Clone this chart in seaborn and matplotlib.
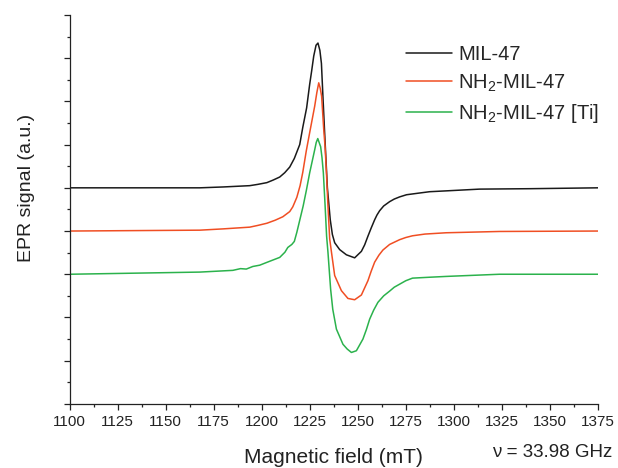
"""Stacked EPR spectra of MIL-47 samples (Q-band)."""

import matplotlib.pyplot as plt
import pandas as pd
import seaborn as sns
from matplotlib.ticker import MultipleLocator

# values, field in mT, signal in units of one major y tick
field_black = [1100, 1167.8, 1180, 1193.8, 1198, 1202.7, 1206, 1209.4, 1212,
               1214.6, 1217, 1219.8, 1221.4, 1223.4, 1225.0, 1226.0, 1227.1,
               1228.3, 1229.3, 1230.3, 1231.1, 1231.9, 1232.8, 1234.2, 1235.7,
               1236.8, 1238.0, 1240.6, 1244.1, 1248.4, 1251.9, 1253.6, 1255.3,
               1257, 1258.8, 1260, 1261.4, 1263.5, 1266.6, 1269, 1271.8, 1275.4,
               1282.2, 1287.4, 1296.2, 1313.4, 1340, 1375]
signal_black = [0, 0, 0.02, 0.05, 0.08, 0.12, 0.18, 0.25, 0.35,
                0.48, 0.68, 1.00, 1.40, 1.85, 2.40, 2.70, 3.05,
                3.30, 3.35, 3.18, 2.88, 2.10, 1.25, 0, -0.74,
                -1.08, -1.27, -1.43, -1.55, -1.62, -1.47, -1.32, -1.12,
                -0.93, -0.74, -0.63, -0.53, -0.42, -0.32, -0.26, -0.21, -0.16,
                -0.12, -0.09, -0.07, -0.03, -0.02, 0]

field_red = [1100, 1167.8, 1180, 1193.8, 1198, 1202.7, 1207, 1211.0, 1214.6,
             1216.2, 1218.3, 1220, 1221.4, 1223.2, 1225.0, 1227.6, 1228.7,
             1229.7, 1230.5, 1231.2, 1232.3, 1233.0, 1233.7, 1234.5, 1235.4,
             1236.3, 1238.0, 1241.5, 1244.9, 1248.4, 1251.9, 1255.3, 1257,
             1258.8, 1261, 1263.1, 1266.6, 1271.8, 1275, 1278.5, 1285, 1296,
             1323.8, 1375]
signal_red = [0, 0.02, 0.05, 0.09, 0.13, 0.18, 0.25, 0.33, 0.45,
              0.56, 0.78, 1.05, 1.36, 1.85, 2.28, 2.89, 3.20,
              3.43, 3.30, 3.12, 2.35, 1.95, 1.36, 0.58, -0.18,
              -0.48, -1.03, -1.38, -1.56, -1.59, -1.48, -1.15, -0.93,
              -0.72, -0.56, -0.44, -0.31, -0.20, -0.15, -0.11, -0.07, -0.04,
              -0.01, 0]

field_green = [1100, 1167.8, 1185.0, 1189.0, 1192.0, 1195.4, 1199.0, 1203.0,
               1209.4, 1212.1, 1213.6, 1215.7, 1217.0, 1218.3, 1221.6, 1223.3,
               1225.0, 1227.6, 1228.4, 1229.2, 1230.7, 1231.4, 1232.1, 1233.0,
               1233.8, 1234.5, 1235.9, 1237.0, 1238.9, 1242.3, 1244.5, 1246.7,
               1249.3, 1252.7, 1254.5, 1256.2, 1258.3, 1260.5, 1263.5, 1266.6,
               1269, 1271.8, 1275, 1278.5, 1287, 1296.2, 1323.8, 1375]
signal_green = [0, 0.05, 0.09, 0.13, 0.12, 0.18, 0.21, 0.28,
                0.39, 0.51, 0.62, 0.69, 0.76, 0.97, 1.58, 1.95,
                2.35, 2.88, 3.05, 3.14, 2.95, 2.70, 2.35, 1.60,
                0.88, 0.51, -0.35, -0.81, -1.27, -1.62, -1.73, -1.81,
                -1.77, -1.50, -1.28, -1.04, -0.83, -0.65, -0.50, -0.39,
                -0.30, -0.23, -0.15, -0.09, -0.07, -0.05, 0, 0]

labels = ["MIL-47", "NH$_2$-MIL-47", "NH$_2$-MIL-47 [Ti]"]
x_ticks = list(range(1100, 1376, 25))

offsets = [2, 1, 0]
colors = ["#1a1a1a", "#f04e23", "#2bb24c"]

sns.set_style("ticks")
plt.rcParams["font.family"] = ["Liberation Sans", "DejaVu Sans"]
plt.rcParams["mathtext.default"] = "regular"

fig = plt.figure(figsize=(6.18, 4.68), dpi=100)
ax = fig.add_axes([0.1125, 0.137, 0.855, 0.831])

series = [(field_black, signal_black), (field_red, signal_red),
          (field_green, signal_green)]
for (fx, sy), lab, off, col in zip(series, labels, offsets, colors):
    df = pd.DataFrame({"field": fx, "signal": sy})
    df["signal"] = df["signal"] + off
    sns.lineplot(data=df, x="field", y="signal", ax=ax, color=col,
                 linewidth=1.1, label=lab)

ax.set_xlim(1100, 1375)
ax.set_ylim(-3, 6)
ax.set_xticks(x_ticks)
ax.xaxis.set_minor_locator(MultipleLocator(12.5))
ax.yaxis.set_major_locator(MultipleLocator(1))
ax.yaxis.set_minor_locator(MultipleLocator(0.5))
ax.set_yticklabels([])
ax.tick_params(which="major", direction="out", length=4.5, width=0.9,
               labelsize=11, colors="#222222")
ax.tick_params(which="minor", direction="out", length=2.5, width=0.9,
               colors="#222222")
for side in ("top", "right"):
    ax.spines[side].set_visible(False)
for side in ("left", "bottom"):
    ax.spines[side].set_linewidth(0.9)
    ax.spines[side].set_color("#222222")

ax.set_xlabel("Magnetic field (mT)", fontsize=15, color="#222222", labelpad=14)
ax.set_ylabel("EPR signal (a.u.)", fontsize=14, color="#222222")
ax.yaxis.set_label_coords(-0.065, 0.555)

ax.legend(frameon=False, loc="upper left", bbox_to_anchor=(0.657, 0.903),
          bbox_transform=fig.transFigure, fontsize=14.5, handlelength=2.3,
          handletextpad=0.3, labelspacing=0.4, borderpad=0, borderaxespad=0)

fig.text(0.99, 0.033, "\u03bd = 33.98 GHz", ha="right", va="center",
         fontsize=13.5, color="#222222")

fig.savefig("out.png", dpi=100)
